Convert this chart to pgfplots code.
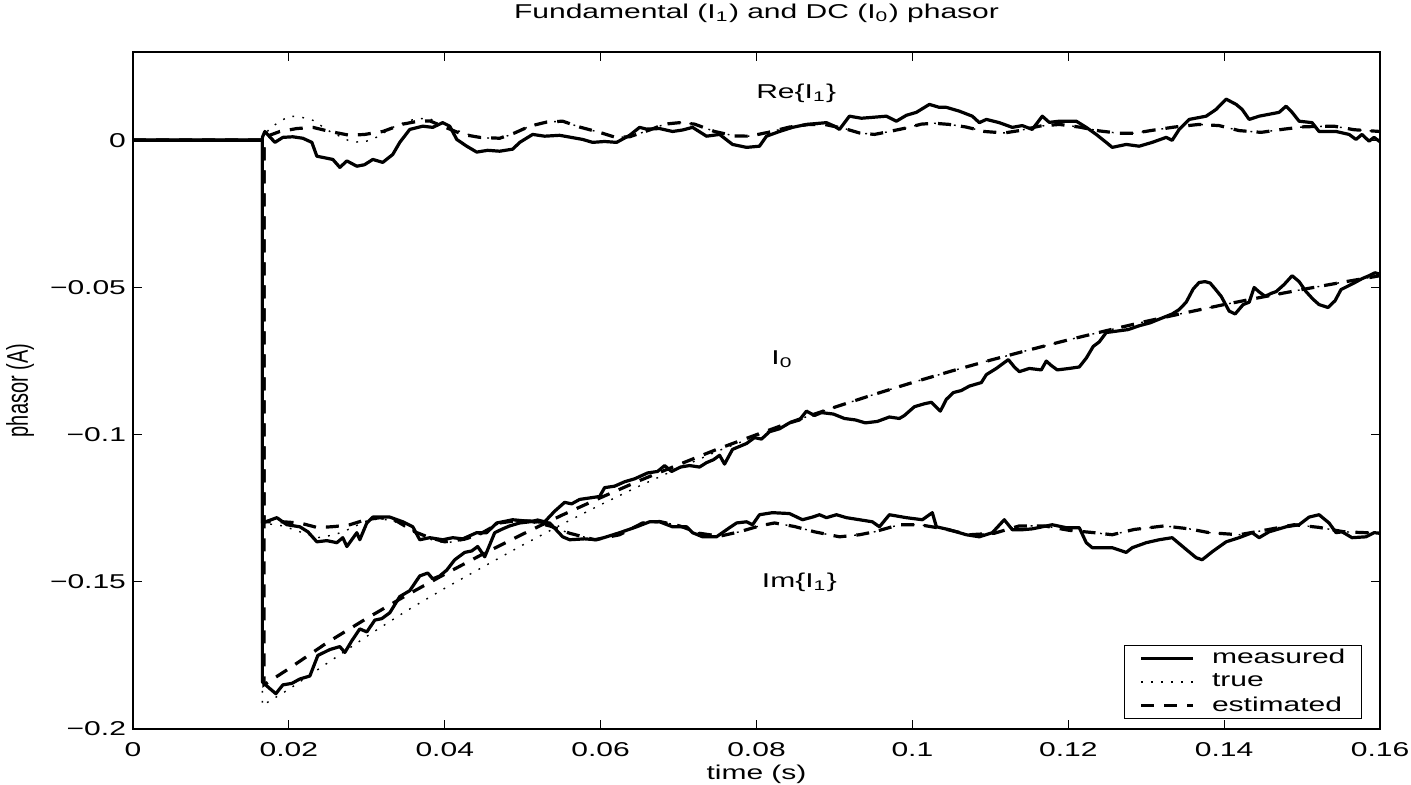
\documentclass[border=0pt]{standalone}
\usepackage{fontspec}
\setmainfont{Liberation Sans}
\usepackage{graphicx}
\usepackage{pgfplots}
\pgfplotsset{compat=1.18}
\newcommand{\sx}[1]{\scalebox{1.5}[1]{#1}}
\newcommand{\fnt}{\fontsize{10}{12}\selectfont}
\begin{document}
\begin{tikzpicture}
\path[use as bounding box] (-66.5pt,-27.5pt) rectangle (639pt,364.5pt);
\begin{axis}[
  at={(0pt,0pt)}, anchor=south west,
  scale only axis, width=623.5pt, height=338.5pt,
  xmin=0, xmax=0.16, ymin=-0.2, ymax=0.03,
  scaled ticks=false,
  xtick={0,0.02,0.04,0.06,0.08,0.1,0.12,0.14,0.16},
  xticklabels={\sx{0},\sx{0.02},\sx{0.04},\sx{0.06},\sx{0.08},\sx{0.1},\sx{0.12},\sx{0.14},\sx{0.16}},
  ytick={-0.2,-0.15,-0.1,-0.05,0},
  yticklabels={\sx{−0.2},\sx{−0.15},\sx{−0.1},\sx{−0.05},\sx{0}},
  tick pos=both, tick align=inside,
  major tick length=4.5pt,
  every tick/.style={black, line width=0.6pt},
  axis line style={line width=0.8pt},
  tick label style={font=\fnt},
  xticklabel style={yshift=-3pt},
  title={\sx{Fundamental (I\textsubscript{1}) and DC (I\textsubscript{0}) phasor}},
  every axis title/.style={at={(axis description cs:0.5,1.0502)}, anchor=base, font=\fnt},
  xlabel={\sx{time (s)}},
  every axis x label/.style={at={(axis description cs:0.5,0)}, anchor=base, yshift=-25pt, font=\fnt},
  ylabel={\scalebox{1}[1.5]{phasor (A)}},
  every axis y label/.style={at={(axis description cs:-0.0906,0.5)}, rotate=90, anchor=center, font=\fnt},
  legend image code/.code={\path (-1.5pt,0pt) (32.5pt,0pt); \draw[#1] (0pt,0pt) -- (26pt,0pt);},
  legend cell align=left,
  legend style={at={(0.9856,0.0148)}, anchor=south east, draw=black, line width=0.6pt,
    font=\fnt, inner xsep=6pt, inner ysep=0pt, row sep=-0.5pt},
  meas/.style={black, line width=1.6pt, line join=round},
  tru/.style={black, line width=0.7pt, dash pattern=on 0.9pt off 4.1pt},
  est/.style={black, line width=1.6pt, dash pattern=on 6.5pt off 5pt},
]
% ---------- Re{I1} ----------
\addplot[meas] coordinates {
(0,0) (0.0166,0) (0.0166,0.001) (0.01692,0.003) (0.01821,-0.0007) (0.01923,0.001) (0.02050,0.0012) (0.02179,0.0007) (0.02295,-0.0007) (0.02359,-0.0054) (0.02564,-0.0065) (0.02654,-0.0092) (0.02744,-0.007) (0.02872,-0.0088) (0.02970,-0.0083) (0.03077,-0.0065) (0.03205,-0.0075) (0.03333,-0.0048) (0.03423,-0.0007) (0.03551,0.0037) (0.03718,0.0048) (0.03846,0.0044) (0.03974,0.006) (0.04064,0.0048) (0.04154,0.0003) (0.04282,-0.002) (0.04410,-0.004) (0.04551,-0.0034) (0.04705,-0.0037) (0.04872,-0.003) (0.04962,-0.0007) (0.05128,0.002) (0.05282,0.0014) (0.05474,0.0017) (0.05769,0.0003) (0.05897,-0.0007) (0.06051,-0.0004) (0.06205,-0.0007) (0.06372,0.0017) (0.06500,0.0044) (0.06590,0.0038) (0.06756,0.004) (0.06923,0.003) (0.07051,0.0035) (0.07179,0.0044) (0.07359,0.0014) (0.07526,0.002) (0.07692,-0.0014) (0.07872,-0.0024) (0.08038,-0.002) (0.08128,0.0014) (0.08295,0.003) (0.08462,0.0044) (0.08641,0.0054) (0.08897,0.006) (0.09000,0.0048) (0.09064,0.0037) (0.09192,0.0082) (0.09346,0.0075) (0.09487,0.0078) (0.09667,0.0082) (0.09795,0.0065) (0.09923,0.0085) (0.10051,0.0095) (0.10218,0.0122) (0.10346,0.0112) (0.10436,0.0112) (0.10603,0.0099) (0.10769,0.0082) (0.10859,0.006) (0.10949,0.0071) (0.11115,0.006) (0.11282,0.0044) (0.11410,0.0050) (0.11538,0.0037) (0.11667,0.0082) (0.11756,0.0061) (0.11885,0.0065) (0.12103,0.0065) (0.12231,0.0044) (0.12359,0.002) (0.12487,-0.0007) (0.12564,-0.0024) (0.12744,-0.0014) (0.12910,-0.002) (0.13077,-0.0007) (0.13256,0.001) (0.13333,0.0) (0.13423,0.0037) (0.13551,0.0071) (0.13769,0.0082) (0.13897,0.0105) (0.14026,0.014) (0.14154,0.0122) (0.14231,0.0105) (0.14321,0.0071) (0.14449,0.0082) (0.14705,0.0095) (0.14795,0.0116) (0.14872,0.0095) (0.14962,0.0065) (0.15128,0.006) (0.15218,0.003) (0.15436,0.003) (0.15603,0.002) (0.15692,0.0003) (0.15769,0.002) (0.15859,-0.0003) (0.15923,0.001) (0.16,-0.0005)
};
\addlegendentry{\sx{measured}}
\addplot[tru] coordinates {
(0,0) (0.0166,0) (0.0166,0.001) (0.01756,0.004) (0.01885,0.0065) (0.02013,0.0082) (0.02141,0.0080) (0.02308,0.0068) (0.02526,0.0030) (0.02782,-0.0003) (0.02936,-0.0007) (0.03077,0.0003) (0.03333,0.0044) (0.03551,0.0068) (0.03769,0.0076) (0.04000,0.0055) (0.04231,0.0025) (0.04449,0.0010) (0.04705,0.0005) (0.04897,0.0025) (0.05090,0.0048) (0.05308,0.0062) (0.05513,0.0065) (0.05731,0.0045) (0.05987,0.0027) (0.06192,0.0010) (0.06372,0.0012) (0.06628,0.0035) (0.06821,0.0055) (0.07013,0.0060) (0.07205,0.0055) (0.07462,0.0030) (0.07718,0.0015) (0.07910,0.0014) (0.08167,0.0028) (0.08423,0.0045) (0.08679,0.0054) (0.08872,0.0054) (0.09128,0.0040) (0.09321,0.0025) (0.09513,0.0020) (0.09705,0.0030) (0.09923,0.0042) (0.10115,0.0055) (0.10282,0.0058) (0.10474,0.0054) (0.10692,0.0045) (0.10923,0.0030) (0.11179,0.0025) (0.11372,0.0033) (0.11628,0.0048) (0.11885,0.0054) (0.12141,0.0045) (0.12397,0.0032) (0.12654,0.0024) (0.12846,0.0024) (0.13103,0.0035) (0.13359,0.0045) (0.13679,0.0054) (0.13936,0.0050) (0.14192,0.0033) (0.14474,0.0027) (0.14769,0.0038) (0.15026,0.0046) (0.15410,0.0048) (0.15667,0.0036) (0.16,0.0030)
};
\addlegendentry{\sx{true}}
\addplot[est] coordinates {
(0,0) (0.0168,0) (0.0168,0.001) (0.01885,0.003) (0.02103,0.0040) (0.02308,0.0044) (0.02526,0.0030) (0.02782,0.0017) (0.02974,0.0020) (0.03205,0.0030) (0.03462,0.0055) (0.03641,0.0064) (0.03808,0.0066) (0.04000,0.0045) (0.04231,0.0020) (0.04449,0.0010) (0.04705,0.0007) (0.04897,0.0025) (0.05090,0.0048) (0.05308,0.0062) (0.05513,0.0065) (0.05731,0.0045) (0.05987,0.0027) (0.06192,0.0010) (0.06372,0.0012) (0.06628,0.0035) (0.06821,0.0055) (0.07013,0.0060) (0.07205,0.0055) (0.07462,0.0030) (0.07718,0.0015) (0.07910,0.0014) (0.08167,0.0028) (0.08423,0.0045) (0.08679,0.0054) (0.08872,0.0054) (0.09128,0.0040) (0.09321,0.0025) (0.09513,0.0020) (0.09705,0.0030) (0.09923,0.0042) (0.10115,0.0055) (0.10282,0.0058) (0.10474,0.0054) (0.10692,0.0045) (0.10923,0.0030) (0.11179,0.0025) (0.11372,0.0033) (0.11628,0.0048) (0.11885,0.0054) (0.12141,0.0045) (0.12397,0.0032) (0.12654,0.0024) (0.12846,0.0024) (0.13103,0.0035) (0.13359,0.0045) (0.13679,0.0054) (0.13936,0.0050) (0.14192,0.0033) (0.14474,0.0027) (0.14769,0.0038) (0.15026,0.0046) (0.15410,0.0048) (0.15667,0.0036) (0.16,0.0030)
};
\addlegendentry{\sx{estimated}}
% ---------- Im{I1} ----------
\addplot[meas, forget plot] coordinates {
(0,0) (0.0166,0) (0.0166,-0.1300) (0.01846,-0.1282) (0.01974,-0.1306) (0.02141,-0.1313) (0.02244,-0.1330) (0.02359,-0.1364) (0.02487,-0.1360) (0.02615,-0.1367) (0.02692,-0.1350) (0.02744,-0.1380) (0.02872,-0.1333) (0.02910,-0.1357) (0.03000,-0.1300) (0.03077,-0.1280) (0.03295,-0.1280) (0.03462,-0.1296) (0.03590,-0.1313) (0.03679,-0.1357) (0.03808,-0.1350) (0.03974,-0.1357) (0.04103,-0.1350) (0.04231,-0.1354) (0.04410,-0.1333) (0.04538,-0.1333) (0.04667,-0.1300) (0.04872,-0.1289) (0.05026,-0.1293) (0.05179,-0.1296) (0.05346,-0.1300) (0.05513,-0.1347) (0.05603,-0.1357) (0.05795,-0.1354) (0.05949,-0.1357) (0.06077,-0.1347) (0.06244,-0.1333) (0.06462,-0.1313) (0.06628,-0.1296) (0.06756,-0.1296) (0.06923,-0.1313) (0.07103,-0.1313) (0.07179,-0.1333) (0.07308,-0.1347) (0.07487,-0.1347) (0.07654,-0.1316) (0.07744,-0.1300) (0.07872,-0.1296) (0.07949,-0.1306) (0.08038,-0.1272) (0.08205,-0.1265) (0.08423,-0.1268) (0.08590,-0.1289) (0.08718,-0.1280) (0.08808,-0.1272) (0.08897,-0.1282) (0.09026,-0.1272) (0.09154,-0.1282) (0.09321,-0.1289) (0.09487,-0.1296) (0.09577,-0.1313) (0.09705,-0.1272) (0.09923,-0.1282) (0.10128,-0.1289) (0.10256,-0.1265) (0.10308,-0.1313) (0.10474,-0.1323) (0.10692,-0.1340) (0.10859,-0.1347) (0.11026,-0.1333) (0.11179,-0.1289) (0.11282,-0.1323) (0.11410,-0.1323) (0.11538,-0.1320) (0.11667,-0.1313) (0.11795,-0.1306) (0.11974,-0.1316) (0.12141,-0.1316) (0.12231,-0.1367) (0.12308,-0.1384) (0.12564,-0.1384) (0.12744,-0.1400) (0.12821,-0.1384) (0.13000,-0.1367) (0.13167,-0.1357) (0.13333,-0.1350) (0.13513,-0.1390) (0.13641,-0.1418) (0.13718,-0.1425) (0.13846,-0.1398) (0.14026,-0.1364) (0.14192,-0.1350) (0.14359,-0.1333) (0.14449,-0.1350) (0.14577,-0.1330) (0.14795,-0.1313) (0.14962,-0.1306) (0.15090,-0.1280) (0.15218,-0.1272) (0.15346,-0.1300) (0.15436,-0.1333) (0.15513,-0.1330) (0.15641,-0.1350) (0.15821,-0.1347) (0.15923,-0.1333) (0.16,-0.1335)
};
\addplot[tru, forget plot] coordinates {
(0,0) (0.0166,0) (0.0166,-0.1300) (0.01923,-0.1310) (0.02141,-0.1330) (0.02372,-0.1350) (0.02590,-0.1340) (0.02782,-0.1320) (0.02974,-0.1295) (0.03167,-0.1285) (0.03359,-0.1295) (0.03615,-0.1330) (0.03808,-0.1355) (0.04000,-0.1368) (0.04256,-0.1358) (0.04449,-0.1338) (0.04705,-0.1300) (0.04897,-0.1293) (0.05090,-0.1293) (0.05346,-0.1310) (0.05603,-0.1335) (0.05923,-0.1357) (0.06244,-0.1340) (0.06538,-0.1300) (0.06756,-0.1295) (0.07013,-0.1310) (0.07269,-0.1335) (0.07526,-0.1345) (0.07782,-0.1330) (0.08038,-0.1310) (0.08231,-0.1300) (0.08487,-0.1312) (0.08744,-0.1330) (0.09064,-0.1347) (0.09321,-0.1340) (0.09513,-0.1330) (0.09833,-0.1306) (0.10090,-0.1306) (0.10410,-0.1320) (0.10731,-0.1340) (0.11051,-0.1335) (0.11372,-0.1310) (0.11692,-0.1310) (0.12013,-0.1325) (0.12333,-0.1333) (0.12564,-0.1340) (0.12846,-0.1322) (0.13231,-0.1310) (0.13551,-0.1320) (0.13808,-0.1333) (0.14192,-0.1340) (0.14513,-0.1325) (0.14897,-0.1306) (0.15218,-0.1315) (0.15538,-0.1330) (0.16,-0.1335)
};
\addplot[est, forget plot] coordinates {
(0,0) (0.0168,0) (0.0168,-0.1296) (0.01923,-0.1296) (0.02141,-0.1300) (0.02372,-0.1316) (0.02590,-0.1312) (0.02782,-0.1306) (0.02974,-0.1290) (0.03167,-0.1282) (0.03359,-0.1290) (0.03615,-0.1330) (0.03808,-0.1350) (0.04000,-0.1364) (0.04256,-0.1355) (0.04449,-0.1338) (0.04705,-0.1300) (0.04897,-0.1293) (0.05090,-0.1293) (0.05346,-0.1310) (0.05603,-0.1335) (0.05923,-0.1357) (0.06244,-0.1340) (0.06538,-0.1300) (0.06756,-0.1295) (0.07013,-0.1310) (0.07269,-0.1335) (0.07526,-0.1345) (0.07782,-0.1330) (0.08038,-0.1310) (0.08231,-0.1300) (0.08487,-0.1312) (0.08744,-0.1330) (0.09064,-0.1347) (0.09321,-0.1340) (0.09513,-0.1330) (0.09833,-0.1306) (0.10090,-0.1306) (0.10410,-0.1320) (0.10731,-0.1340) (0.11051,-0.1335) (0.11372,-0.1310) (0.11692,-0.1310) (0.12013,-0.1325) (0.12333,-0.1333) (0.12564,-0.1340) (0.12846,-0.1322) (0.13231,-0.1310) (0.13551,-0.1320) (0.13808,-0.1333) (0.14192,-0.1340) (0.14513,-0.1325) (0.14897,-0.1306) (0.15218,-0.1315) (0.15538,-0.1330) (0.16,-0.1335)
};
% ---------- I0 ----------
\addplot[meas, forget plot] coordinates {
(0,0) (0.0166,0) (0.0166,-0.1840) (0.01744,-0.1860) (0.01833,-0.1880) (0.01923,-0.1850) (0.02038,-0.1845) (0.02141,-0.1830) (0.02269,-0.1820) (0.02372,-0.1750) (0.02526,-0.1730) (0.02654,-0.1720) (0.02718,-0.1740) (0.02808,-0.1700) (0.02910,-0.1660) (0.03000,-0.1670) (0.03103,-0.1630) (0.03192,-0.1625) (0.03295,-0.1605) (0.03423,-0.1550) (0.03551,-0.1530) (0.03679,-0.1480) (0.03782,-0.1470) (0.03846,-0.1490) (0.03936,-0.1480) (0.04026,-0.1460) (0.04128,-0.1425) (0.04256,-0.1400) (0.04346,-0.1395) (0.04423,-0.1380) (0.04513,-0.1415) (0.04641,-0.1333) (0.04744,-0.1320) (0.04833,-0.1310) (0.04962,-0.1300) (0.05090,-0.1296) (0.05192,-0.1290) (0.05282,-0.1296) (0.05410,-0.1260) (0.05538,-0.1230) (0.05628,-0.1235) (0.05731,-0.1220) (0.05859,-0.1215) (0.05987,-0.1210) (0.06051,-0.1180) (0.06179,-0.1175) (0.06308,-0.1160) (0.06436,-0.1150) (0.06603,-0.1130) (0.06731,-0.1125) (0.06821,-0.1105) (0.06910,-0.1125) (0.07026,-0.1110) (0.07141,-0.1105) (0.07269,-0.1110) (0.07359,-0.1095) (0.07449,-0.1085) (0.07526,-0.1070) (0.07590,-0.1100) (0.07692,-0.1050) (0.07782,-0.1040) (0.07872,-0.1030) (0.07974,-0.1010) (0.08064,-0.1015) (0.08167,-0.0990) (0.08295,-0.0980) (0.08423,-0.0960) (0.08551,-0.0950) (0.08641,-0.0920) (0.08744,-0.0935) (0.08833,-0.0925) (0.08987,-0.0930) (0.09128,-0.0945) (0.09269,-0.0950) (0.09397,-0.0960) (0.09551,-0.0955) (0.09705,-0.0940) (0.09833,-0.0945) (0.09897,-0.0935) (0.10026,-0.0905) (0.10154,-0.0895) (0.10244,-0.0890) (0.10359,-0.0920) (0.10436,-0.0880) (0.10526,-0.0857) (0.10628,-0.0850) (0.10731,-0.0835) (0.10885,-0.0823) (0.10949,-0.0796) (0.11077,-0.0775) (0.11154,-0.0760) (0.11231,-0.0745) (0.11308,-0.0770) (0.11372,-0.0786) (0.11500,-0.0775) (0.11654,-0.0780) (0.11718,-0.0750) (0.11782,-0.0765) (0.11859,-0.0780) (0.12013,-0.0775) (0.12141,-0.0770) (0.12231,-0.0740) (0.12321,-0.0700) (0.12397,-0.0685) (0.12487,-0.0653) (0.12628,-0.0648) (0.12769,-0.0643) (0.12910,-0.0630) (0.13051,-0.0620) (0.13192,-0.0605) (0.13333,-0.0590) (0.13423,-0.0575) (0.13513,-0.0550) (0.13603,-0.0505) (0.13679,-0.0483) (0.13756,-0.0480) (0.13821,-0.0485) (0.13885,-0.0505) (0.13962,-0.0530) (0.14064,-0.0580) (0.14141,-0.0590) (0.14244,-0.0558) (0.14321,-0.0550) (0.14385,-0.0500) (0.14449,-0.0515) (0.14526,-0.0530) (0.14603,-0.0520) (0.14667,-0.0514) (0.14769,-0.0490) (0.14872,-0.0460) (0.14962,-0.0480) (0.15051,-0.0514) (0.15141,-0.0540) (0.15218,-0.0558) (0.15333,-0.0568) (0.15423,-0.0545) (0.15500,-0.0507) (0.15590,-0.0495) (0.15679,-0.0483) (0.15769,-0.0470) (0.15859,-0.0460) (0.15936,-0.0450) (0.16,-0.0455)
};
\addplot[tru, forget plot] coordinates {
(0,0) (0.0166,0) (0.0166,-0.1920) (0.020,-0.1865) (0.025,-0.1775) (0.030,-0.1685) (0.035,-0.1600) (0.040,-0.1522) (0.045,-0.1448) (0.050,-0.1375) (0.055,-0.1305) (0.060,-0.1238) (0.065,-0.1174) (0.070,-0.1114) (0.075,-0.1056) (0.080,-0.1004) (0.085,-0.0952) (0.090,-0.0907) (0.095,-0.0864) (0.100,-0.0823) (0.105,-0.0784) (0.110,-0.0747) (0.115,-0.0712) (0.120,-0.0678) (0.125,-0.0646) (0.130,-0.0615) (0.135,-0.0586) (0.140,-0.0558) (0.145,-0.0532) (0.150,-0.0507) (0.155,-0.0483) (0.160,-0.0460)
};
\addplot[est, forget plot] coordinates {
(0,0) (0.0168,0) (0.0168,-0.1850) (0.020,-0.1795) (0.025,-0.1705) (0.030,-0.1624) (0.035,-0.1547) (0.040,-0.1474) (0.045,-0.1404) (0.050,-0.1338) (0.055,-0.1274) (0.060,-0.1214) (0.065,-0.1156) (0.070,-0.1102) (0.075,-0.1049) (0.080,-0.1000) (0.085,-0.0952) (0.090,-0.0907) (0.095,-0.0864) (0.100,-0.0823) (0.105,-0.0784) (0.110,-0.0747) (0.115,-0.0712) (0.120,-0.0678) (0.125,-0.0646) (0.130,-0.0615) (0.135,-0.0586) (0.140,-0.0558) (0.145,-0.0532) (0.150,-0.0507) (0.155,-0.0483) (0.160,-0.0460)
};
\node[font=\fnt] at (axis cs:0.0851,0.0158) {\sx{Re\{I\textsubscript{1}\}}};
\node[font=\fnt] at (axis cs:0.0833,-0.0745) {\sx{I\textsubscript{0}}};
\node[font=\fnt] at (axis cs:0.0855,-0.1500) {\sx{Im\{I\textsubscript{1}\}}};
\end{axis}
\end{tikzpicture}
\end{document}
